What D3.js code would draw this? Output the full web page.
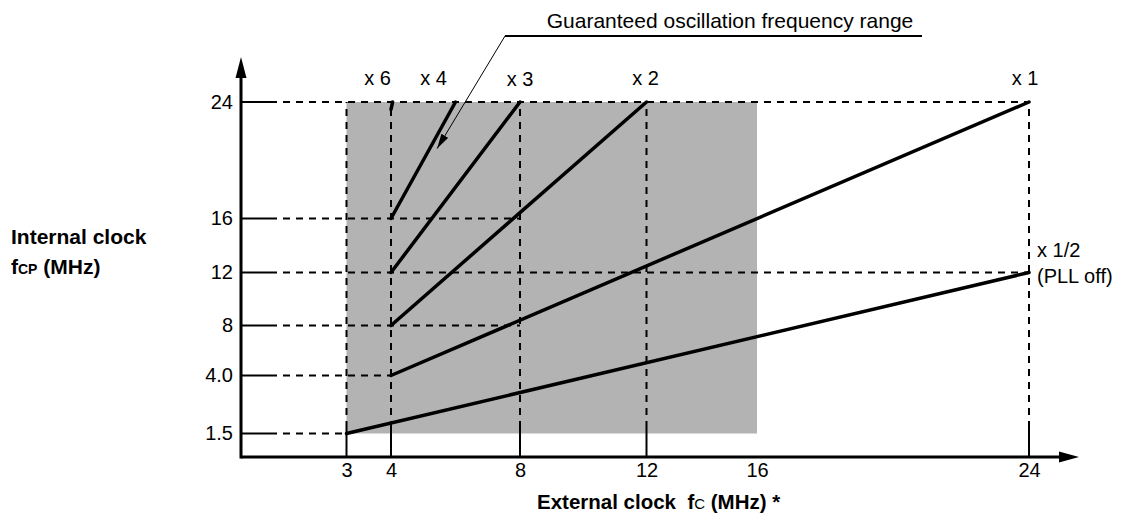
<!DOCTYPE html>
<html>
<head>
<meta charset="utf-8">
<script src="https://cdn.jsdelivr.net/npm/d3@7"></script>
<style>
  body { margin: 0; background: #fff; }
  svg { display: block; font-family: "Liberation Sans", Arial, sans-serif; }
  text { fill: #000; }
</style>
</head>
<body>
<svg id="chart"></svg>
<script>
// Axis ticks (the original axes are schematic, not to scale)
const xTicks = [3, 4, 8, 12, 16, 24];
const xTickLabels = ['3', '4', '8', '12', '16', '24'];
const xGuideTop = [24, 24, 24, 24, null, 24];     // vertical dashed guide goes up to this fcp

const yTicks = [1.5, 4, 8, 12, 16, 24];
const yTickLabels = ['1.5', '4.0', '8', '12', '16', '24'];
const yGuideEnd = [3, 4, 8, 24, 8, 24];          // horizontal dashed guide runs to this fc

// Multiplier lines: fc (MHz) -> fcp (MHz)
const multipliers = ['x 6', 'x 4', 'x 3', 'x 2', 'x 1', 'x 1/2'];
const fcStart = [4, 4, 4, 4, 4, 3];
const fcEnd = [4.05, 6, 8, 12, 24, 24];
const fcpStart = [23.5, 16, 12, 8, 4, 1.5];
const fcpEnd = [24, 24, 24, 24, 24, 12];

// Guaranteed oscillation frequency range (shaded)
const rangeFc = [3, 16];
const rangeFcp = [1.5, 24];
const annotationText = 'Guaranteed oscillation frequency range';
const annotationTarget = [5.43, 20.8];

const width = 1125, height = 516;
const origin = { x: 241, y: 457 };

const svg = d3.select('#chart')
  .attr('width', width)
  .attr('height', height);

// Piecewise scales, the drawing stretches each interval differently
const x = d3.scaleLinear()
  .domain(xTicks)
  .range([346.5, 391, 520, 646.5, 757, 1029]);

const y = d3.scaleLinear()
  .domain(yTicks)
  .range([433.5, 375.5, 325.5, 272.5, 218.5, 102]);

// Shaded range
svg.append('rect')
  .attr('x', x(rangeFc[0]))
  .attr('y', y(rangeFcp[1]))
  .attr('width', x(rangeFc[1]) - x(rangeFc[0]))
  .attr('height', y(rangeFcp[0]) - y(rangeFcp[1]))
  .attr('fill', '#b3b3b3');

const tickLen = 29;
const dash = '7,6';

// Horizontal guides
yTicks.forEach((v, i) => {
  svg.append('line')
    .attr('x1', origin.x).attr('x2', origin.x + tickLen)
    .attr('y1', y(v)).attr('y2', y(v))
    .attr('stroke', '#000').attr('stroke-width', 2);
  svg.append('line')
    .attr('x1', origin.x + tickLen).attr('x2', x(yGuideEnd[i]))
    .attr('y1', y(v)).attr('y2', y(v))
    .attr('stroke', '#000').attr('stroke-width', 2)
    .attr('stroke-dasharray', dash);
});

// Vertical guides
xTicks.forEach((v, i) => {
  if (xGuideTop[i] === null) return;
  svg.append('line')
    .attr('x1', x(v)).attr('x2', x(v))
    .attr('y1', origin.y).attr('y2', origin.y - tickLen)
    .attr('stroke', '#000').attr('stroke-width', 2);
  svg.append('line')
    .attr('x1', x(v)).attr('x2', x(v))
    .attr('y1', origin.y - tickLen).attr('y2', y(xGuideTop[i]))
    .attr('stroke', '#000').attr('stroke-width', 2)
    .attr('stroke-dasharray', dash);
});

// Multiplier lines
const lines = multipliers.map((m, i) => ({
  name: m,
  pts: [[fcStart[i], fcpStart[i]], [fcEnd[i], fcpEnd[i]]]
}));

const lineGen = d3.line()
  .x(d => x(d[0]))
  .y(d => y(d[1]));

svg.selectAll('.mult')
  .data(lines)
  .join('path')
  .attr('class', 'mult')
  .attr('d', d => lineGen(d.pts))
  .attr('fill', 'none')
  .attr('stroke', '#000')
  .attr('stroke-width', 3.5)
  .attr('stroke-linecap', 'round');

// Labels for the lines (offset from the upper end)
const labelOffset = {
  'x 6': [-15, -17], 'x 4': [-22, -17], 'x 3': [0, -16],
  'x 2': [-1, -17], 'x 1': [-4, -17], 'x 1/2': [8, -16]
};
lines.forEach(d => {
  const end = d.pts[1];
  const off = labelOffset[d.name];
  svg.append('text')
    .attr('x', x(end[0]) + off[0])
    .attr('y', y(end[1]) + off[1])
    .attr('font-size', 20)
    .attr('text-anchor', d.name === 'x 1/2' ? 'start' : 'middle')
    .text(d.name);
  if (d.name === 'x 1/2') {
    svg.append('text')
      .attr('x', x(end[0]) + off[0])
      .attr('y', y(end[1]) + 10)
      .attr('font-size', 20)
      .text('(PLL off)');
  }
});

// Axes lines with arrow heads
svg.append('line')
  .attr('x1', origin.x).attr('x2', origin.x)
  .attr('y1', origin.y + 1.5).attr('y2', 75)
  .attr('stroke', '#000').attr('stroke-width', 3);
svg.append('path')
  .attr('d', `M${origin.x},57 L${origin.x - 5.5},78 L${origin.x + 5.5},78 Z`)
  .attr('fill', '#000');

svg.append('line')
  .attr('x1', origin.x).attr('x2', 1062)
  .attr('y1', origin.y).attr('y2', origin.y)
  .attr('stroke', '#000').attr('stroke-width', 3);
svg.append('path')
  .attr('d', `M1079,${origin.y} L1059,${origin.y - 5.5} L1059,${origin.y + 5.5} Z`)
  .attr('fill', '#000');

// Tick labels
const xAxisG = svg.append('g')
  .attr('transform', `translate(0,${origin.y})`)
  .call(d3.axisBottom(x).tickValues(xTicks).tickSize(0).tickPadding(6)
    .tickFormat((d, i) => xTickLabels[i]));
xAxisG.select('.domain').remove();
xAxisG.attr('font-size', 20).attr('font-family', null);
xAxisG.selectAll('text').attr('fill', '#000');

const yAxisG = svg.append('g')
  .attr('transform', `translate(${origin.x},0)`)
  .call(d3.axisLeft(y).tickValues(yTicks).tickSize(0).tickPadding(8)
    .tickFormat((d, i) => yTickLabels[i]));
yAxisG.select('.domain').remove();
yAxisG.attr('font-size', 20).attr('font-family', null);
yAxisG.selectAll('text').attr('fill', '#000');

// Axis titles
svg.append('text')
  .attr('x', 11).attr('y', 244)
  .attr('font-size', 21).attr('font-weight', 'bold')
  .text('Internal clock');
const yTitle2 = svg.append('text')
  .attr('x', 11).attr('y', 274)
  .attr('font-size', 21).attr('font-weight', 'bold');
yTitle2.append('tspan').text('f');
yTitle2.append('tspan').attr('font-size', 14).text('CP');
yTitle2.append('tspan').text(' (MHz)');

const xTitle = svg.append('text')
  .attr('x', 537).attr('y', 509)
  .attr('font-size', 20.5).attr('font-weight', 'bold')
  .style('white-space', 'pre');
xTitle.append('tspan').text('External clock  f');
xTitle.append('tspan').attr('font-size', 15).attr('font-weight', 'normal').text('C');
xTitle.append('tspan').text(' (MHz) *');

// Annotation with leader arrow
svg.append('defs').append('marker')
  .attr('id', 'arrow')
  .attr('viewBox', '0 0 15 8')
  .attr('refX', 15).attr('refY', 4)
  .attr('markerWidth', 15).attr('markerHeight', 8)
  .attr('markerUnits', 'userSpaceOnUse')
  .attr('orient', 'auto')
  .append('path')
  .attr('d', 'M0,0 L15,4 L0,8 Z')
  .attr('fill', '#000');

const annX = 505, annY = 36;
svg.append('line')
  .attr('x1', annX).attr('x2', 922)
  .attr('y1', annY).attr('y2', annY)
  .attr('stroke', '#000').attr('stroke-width', 2);
svg.append('line')
  .attr('x1', annX).attr('y1', annY)
  .attr('x2', x(annotationTarget[0])).attr('y2', y(annotationTarget[1]))
  .attr('stroke', '#000').attr('stroke-width', 1)
  .attr('marker-end', 'url(#arrow)');
svg.append('text')
  .attr('x', 730).attr('y', 28)
  .attr('text-anchor', 'middle')
  .attr('font-size', 21)
  .text(annotationText);
</script>
</body>
</html>
